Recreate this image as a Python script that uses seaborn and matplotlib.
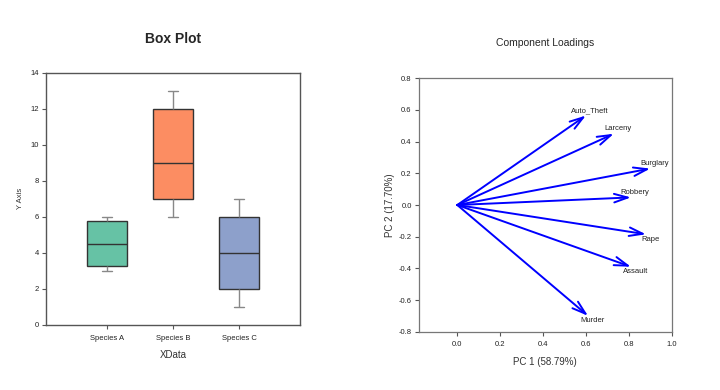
import numpy as np
import pandas as pd
import matplotlib
matplotlib.use("Agg")
import matplotlib.pyplot as plt
import seaborn as sns

# ---- data ----
species = ["Species A", "Species B", "Species C"]
values_a = [3, 3, 4, 5, 6, 6]
values_b = [6, 7, 9, 12, 13]
values_c = [1, 2, 4, 6, 7]
box_colors = ["#66c2a5", "#fc8d62", "#8da0cb"]

variables = ["Auto_Theft", "Larceny", "Burglary", "Robbery", "Rape", "Assault", "Murder"]
pc1 = [0.60, 0.73, 0.90, 0.81, 0.88, 0.81, 0.61]
pc2 = [0.565, 0.45, 0.23, 0.048, -0.185, -0.39, -0.70]

sns.set_theme(style="white")
plt.rcParams["font.family"] = ["Liberation Sans", "DejaVu Sans"]

fig = plt.figure(figsize=(7.2, 3.9), dpi=100)

spine_col = "#555555"
tick_kw = dict(direction="out", length=3, width=0.8, color=spine_col,
               labelsize=5.5, labelcolor="#222222", pad=2,
               bottom=True, left=True, top=False, right=False)

# ---- Box plot ----
ax1 = fig.add_axes([0.0639, 0.1667, 0.3528, 0.647])
df = pd.DataFrame({
    "XData": [species[0]] * len(values_a) + [species[1]] * len(values_b) + [species[2]] * len(values_c),
    "Y": values_a + values_b + values_c,
})
sns.boxplot(data=df, x="XData", y="Y", hue="XData", palette=box_colors, legend=False,
            width=0.6, linewidth=1.0, saturation=1, ax=ax1,
            boxprops=dict(edgecolor="#333333"),
            medianprops=dict(color="#333333", linewidth=1.0),
            whiskerprops=dict(color="#888888", linewidth=1.0),
            capprops=dict(color="#888888", linewidth=1.0),
            capwidths=0.15)
ax1.set_xlim(-0.92, 2.92)
ax1.set_ylim(0, 14)
ax1.set_yticks(np.arange(0, 15, 2))
ax1.set_title("Box Plot", fontsize=10, fontweight="bold", pad=21)
ax1.set_xlabel("XData", fontsize=7, color="#333333", labelpad=6)
ax1.set_ylabel("Y Axis", fontsize=5.5, color="#333333", labelpad=5)
ax1.tick_params(**tick_kw)
ax1.tick_params(axis="x", labelsize=5.5, pad=4)
for s in ax1.spines.values():
    s.set_color(spine_col)
    s.set_linewidth(1.0)

# ---- Component loadings ----
ax2 = fig.add_axes([0.5815, 0.1495, 0.3514, 0.6497])
ax2.set_xlim(-0.18, 1.0)
ax2.set_ylim(-0.8, 0.8)
ax2.set_xticks(np.round(np.arange(0, 1.01, 0.2), 1))
ax2.set_yticks(np.round(np.arange(-0.8, 0.81, 0.2), 1) + 0.0)
ax2.xaxis.set_major_formatter(matplotlib.ticker.FuncFormatter(lambda v, p: f"{v + 0.0:.1f}".replace("-0.0", "0.0")))
ax2.yaxis.set_major_formatter(matplotlib.ticker.FuncFormatter(lambda v, p: f"{v + 0.0:.1f}".replace("-0.0", "0.0")))
for name, x, y in zip(variables, pc1, pc2):
    ax2.annotate("", xy=(x, y), xytext=(0, 0),
                 arrowprops=dict(arrowstyle="->,head_length=0.7,head_width=0.22",
                                 color="#0000ff", lw=1.4,
                                 mutation_scale=14, shrinkA=0, shrinkB=0))
    sgn = 1 if y >= 0 else -1
    ax2.text(x + 0.02, y + 0.03 * sgn, name, fontsize=5.5, color="#222222",
             ha="center", va="center")
ax2.set_title("Component Loadings", fontsize=7.5, pad=23)
ax2.set_xlabel("PC 1 (58.79%)", fontsize=7, color="#333333", labelpad=6)
ax2.set_ylabel("PC 2 (17.70%)", fontsize=7, color="#333333", labelpad=3)
ax2.tick_params(**tick_kw)
ax2.tick_params(axis="x", pad=4)
for s in ax2.spines.values():
    s.set_color("#777777")
    s.set_linewidth(0.9)

fig.savefig("out.png", dpi=100)
